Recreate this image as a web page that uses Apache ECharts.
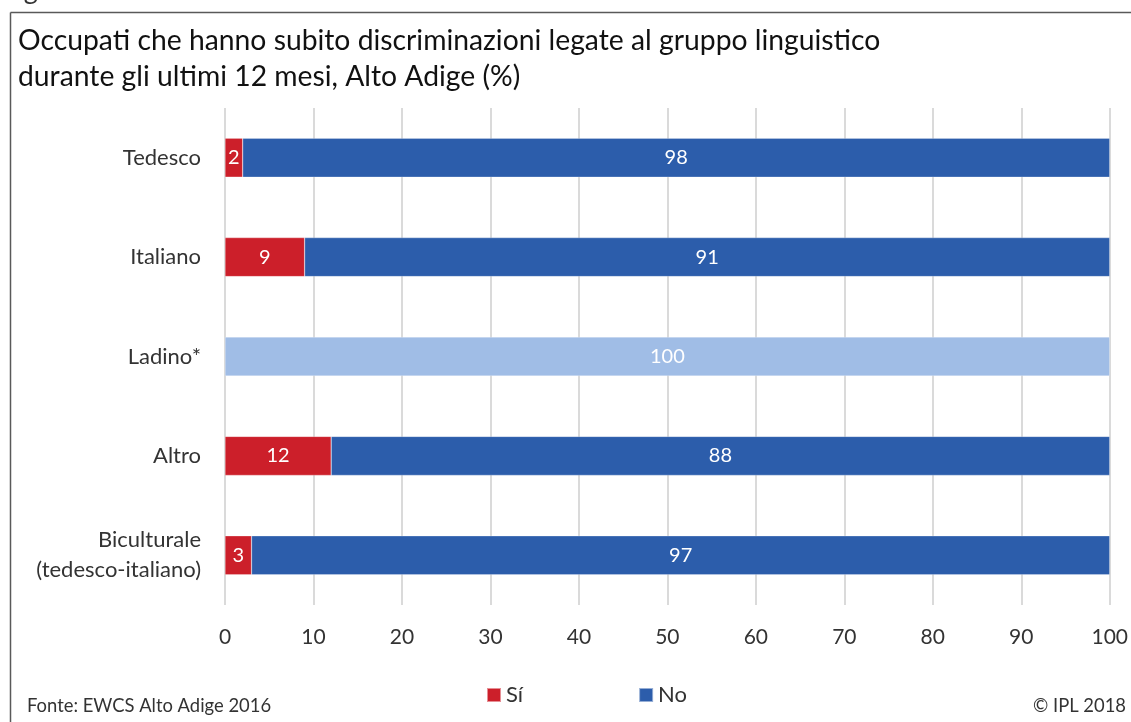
<!DOCTYPE html>
<html><head><meta charset="utf-8">
<script src="https://cdn.jsdelivr.net/npm/echarts@6/dist/echarts.min.js"></script>
<style>html,body{margin:0;padding:0;background:#fff}#c{width:1131px;height:722px}</style>
</head><body><div id="c"></div>
<script>
const categories = ['Tedesco', 'Italiano', 'Ladino*', 'Altro', 'Biculturale\n(tedesco-italiano)'];
const siValues = [2, 9, null, 12, 3];
const noValues = [98, 91, 100, 88, 97];
const xTicks = [0, 10, 20, 30, 40, 50, 60, 70, 80, 90, 100];
const flaggedCategory = 'Ladino*';

const FONT = 'Lato, "Open Sans", sans-serif';
const chart = echarts.init(document.getElementById('c'));
const labelStyle = { show: true, position: 'inside', color: '#fff', fontSize: 20, fontFamily: FONT };
chart.setOption({
  animation: false,
  textStyle: { fontFamily: FONT },
  graphic: [
    { type: 'line', shape: { x1: 10.5, y1: 12.5, x2: 1131, y2: 12.5 }, style: { stroke: '#595959', lineWidth: 1.5 } },
    { type: 'line', shape: { x1: 10.5, y1: 12.5, x2: 10.5, y2: 722 }, style: { stroke: '#595959', lineWidth: 1.5 } },
    { type: 'text', left: 2, top: -23, style: { text: 'Figura', fontSize: 27, fill: '#333', fontFamily: FONT } },
    { type: 'text', left: 18, top: 23, style: { text: 'Occupati che hanno subito discriminazioni legate al gruppo linguistico\ndurante gli ultimi 12 mesi, Alto Adige (%)', fontSize: 28.3, lineHeight: 36, fill: '#111', fontFamily: FONT } },
    { type: 'text', left: 27, top: 697, style: { text: 'Fonte: EWCS Alto Adige 2016', fontSize: 18.4, fill: '#333', fontFamily: FONT } },
    { type: 'text', right: 5, top: 697, style: { text: '© IPL 2018', fontSize: 18.4, fill: '#333', fontFamily: FONT } }
  ],
  legend: {
    bottom: 11, left: 481, itemWidth: 14, itemHeight: 14, itemGap: 115,
    icon: 'rect',
    textStyle: { fontSize: 22, color: '#333', fontFamily: FONT },
    data: ['Sí', 'No']
  },
  grid: { left: 225, right: 20, top: 108, bottom: 117 },
  xAxis: {
    type: 'value', min: 0, max: 100, interval: 10,
    axisLine: { show: false }, axisTick: { show: false },
    axisLabel: { fontSize: 21, color: '#333', margin: 22, fontFamily: FONT,
      formatter: v => xTicks.includes(v) ? String(v) : '' },
    splitLine: { show: true, lineStyle: { color: '#dadada', width: 2 } }
  },
  yAxis: {
    type: 'category', inverse: true, data: categories,
    axisLine: { show: false }, axisTick: { show: false },
    axisLabel: { fontSize: 22, color: '#333', margin: 24, lineHeight: 30, fontFamily: FONT }
  },
  series: [
    { name: 'Sí', type: 'bar', stack: 'a', barWidth: 39, data: siValues,
      itemStyle: { color: '#CC1F2A', borderColor: 'rgba(255,255,255,0.5)', borderWidth: 0.5 },
      label: labelStyle },
    { name: 'No', type: 'bar', stack: 'a', barWidth: 39,
      data: noValues.map((v, i) => categories[i] === flaggedCategory ? { value: v, itemStyle: { color: '#A0BDE6' } } : v),
      itemStyle: { color: '#2C5DAB', borderColor: 'rgba(255,255,255,0.5)', borderWidth: 0.5 },
      label: labelStyle }
  ]
});
</script></body></html>
